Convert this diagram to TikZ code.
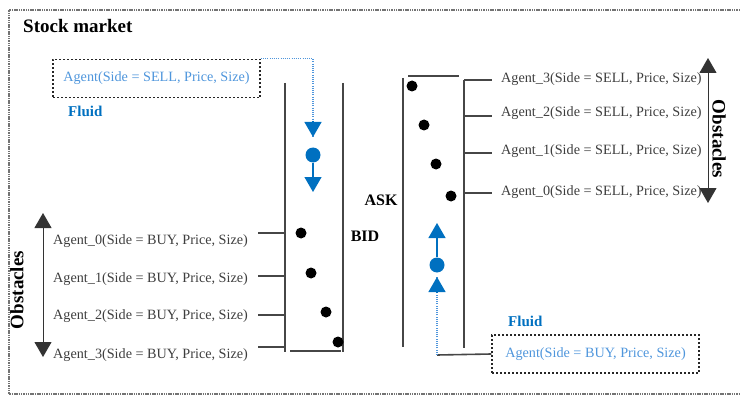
\documentclass[tikz,border=0pt]{standalone}
\usepackage{fontspec}
\setmainfont{Liberation Serif}
\usepackage{tikz}
\usetikzlibrary{calc,arrows.meta,positioning}

\definecolor{lblgray}{RGB}{62,62,62}
\definecolor{colgray}{RGB}{70,70,70}
\definecolor{fluidblue}{RGB}{0,112,192}
\definecolor{fluidtext}{RGB}{79,150,220}

\tikzset{
    agentlbl/.style={anchor=west,inner sep=0pt,text=lblgray,font=\fontsize{14.2}{14.2}\selectfont},
    sidelbl/.style={inner sep=0pt,font=\fontsize{16}{16}\selectfont\bfseries},
    obslbl/.style={inner sep=0pt,font=\fontsize{19}{19}\selectfont\bfseries},
    fluidlbl/.style={anchor=west,inner sep=0pt,text=fluidblue,font=\fontsize{15}{15}\selectfont\bfseries},
    fluidbox/.style={draw=black!85,line width=1.4pt,dash pattern=on 2pt off 2pt,
                     minimum width=207pt,minimum height=38pt,inner sep=0pt,
                     text=fluidtext,font=\fontsize{14.2}{14.2}\selectfont},
    fluidline/.style={draw=fluidtext,line width=1.4pt,dash pattern=on 1pt off 1.2pt},
    fluiddot/.style={circle,fill=fluidblue,minimum size=15pt,inner sep=0pt},
    fluidtip/.style={-{Triangle[width=17pt,length=15pt]},fluidblue,line width=1.2pt},
    column/.style={draw=colgray,line width=1.6pt},
    tick/.style={draw=colgray,line width=1.6pt},
    order/.style={circle,fill=black,minimum size=11pt,inner sep=0pt},
    obsarrow/.style={{Triangle[width=17pt,length=15pt]}-{Triangle[width=17pt,length=15pt]},
                     draw=black!80,fill=black,line width=1pt},
    frame/.style={draw=black!55,line width=1.6pt,dash pattern=on 1.5pt off 0.8pt}
}

\begin{document}
\begin{tikzpicture}[x=1pt,y=-1pt]
    \useasboundingbox (0,0) rectangle (740,396);

    % outer frame
    \draw[frame] (740,10) -- (9,10) -- (9,394) -- (740,394);
    \node[anchor=west,inner sep=0pt,font=\fontsize{19}{19}\selectfont\bfseries] (title) at (23,26) {Stock market};

    % BID column
    \draw[column] (285,83) -- (285,352);
    \draw[column] (343,83) -- (343,352);
    \draw[column] (290,351) -- (341,351);
    \node[sidelbl] (bid) at (365,236) {BID};

    \node[order] (b0) at (301,233) {};
    \node[order] (b1) at (311,273) {};
    \node[order] (b2) at (326,312) {};
    \node[order] (b3) at (338,342) {};

    \draw[tick] (258,233) -- (285,233);
    \draw[tick] (258,276) -- (285,276);
    \draw[tick] (258,315) -- (285,315);
    \draw[tick] (258,347) -- (285,347);

    \node[agentlbl] (buy0) at (53,241) {Agent\_0(Side = BUY, Price, Size)};
    \node[agentlbl] (buy1) at (53,279) {Agent\_1(Side = BUY, Price, Size)};
    \node[agentlbl] (buy2) at (53,316) {Agent\_2(Side = BUY, Price, Size)};
    \node[agentlbl] (buy3) at (53,355) {Agent\_3(Side = BUY, Price, Size)};

    \coordinate (obsltop) at (43,213);
    \coordinate (obslbot) at (43,357);
    \draw[obsarrow] (obsltop) -- (obslbot);
    \node[obslbl,rotate=90] (obsl) at (17,290) {Obstacles};

    % ASK column
    \draw[column] (403,78) -- (403,347);
    \draw[column] (464,80) -- (464,348);
    \draw[column] (408,76) -- (459,76);
    \node[sidelbl] (ask) at (381,200) {ASK};

    \node[order] (a3) at (412,86) {};
    \node[order] (a2) at (424,125) {};
    \node[order] (a1) at (436,164) {};
    \node[order] (a0) at (451,196) {};

    \draw[tick] (464,80) -- (492,80);
    \draw[tick] (464,116) -- (492,116);
    \draw[tick] (464,153) -- (492,153);
    \draw[tick] (464,193) -- (492,193);

    \node[agentlbl] (sell3) at (501,79) {Agent\_3(Side = SELL, Price, Size)};
    \node[agentlbl] (sell2) at (501,113) {Agent\_2(Side = SELL, Price, Size)};
    \node[agentlbl] (sell1) at (501,151) {Agent\_1(Side = SELL, Price, Size)};
    \node[agentlbl] (sell0) at (501,192) {Agent\_0(Side = SELL, Price, Size)};

    \coordinate (obsrtop) at (708,58);
    \coordinate (obsrbot) at (708,203);
    \draw[obsarrow] (obsrtop) -- (obsrbot);
    \node[obslbl,rotate=-90] (obsr) at (719,139) {Obstacles};

    % fluid SELL
    \node[fluidbox] (sellbox) at (156.5,78.5) {Agent(Side = SELL, Price, Size)};
    \node[fluidlbl] (sellfluid) at (68,111) {Fluid};
    \coordinate (stip) at (313,137);
    \node[fluiddot] (sdot) at (313,155) {};
    \coordinate (stip2) at (313,192);
    \draw[fluidline] (sellbox.north east) -| (stip);
    \draw[fluidtip] ($(stip)+(0,-16)$) -- (stip);
    \draw[fluidtip] (sdot) -- (stip2);

    % fluid BUY
    \node[fluidbox] (buybox) at (595.5,354) {Agent(Side = BUY, Price, Size)};
    \node[fluidlbl] (buyfluid) at (508,321) {Fluid};
    \coordinate (bturn) at (437,355);
    \coordinate (btip) at (437,277);
    \node[fluiddot] (bdot) at (437,265) {};
    \coordinate (btip2) at (437,223);
    \draw[colgray,line width=1.6pt] (buybox.west) -- (bturn);
    \draw[fluidline] (bturn) -- (btip);
    \draw[fluidtip] ($(btip)+(0,16)$) -- (btip);
    \draw[fluidtip] (bdot) -- (btip2);
\end{tikzpicture}
\end{document}
